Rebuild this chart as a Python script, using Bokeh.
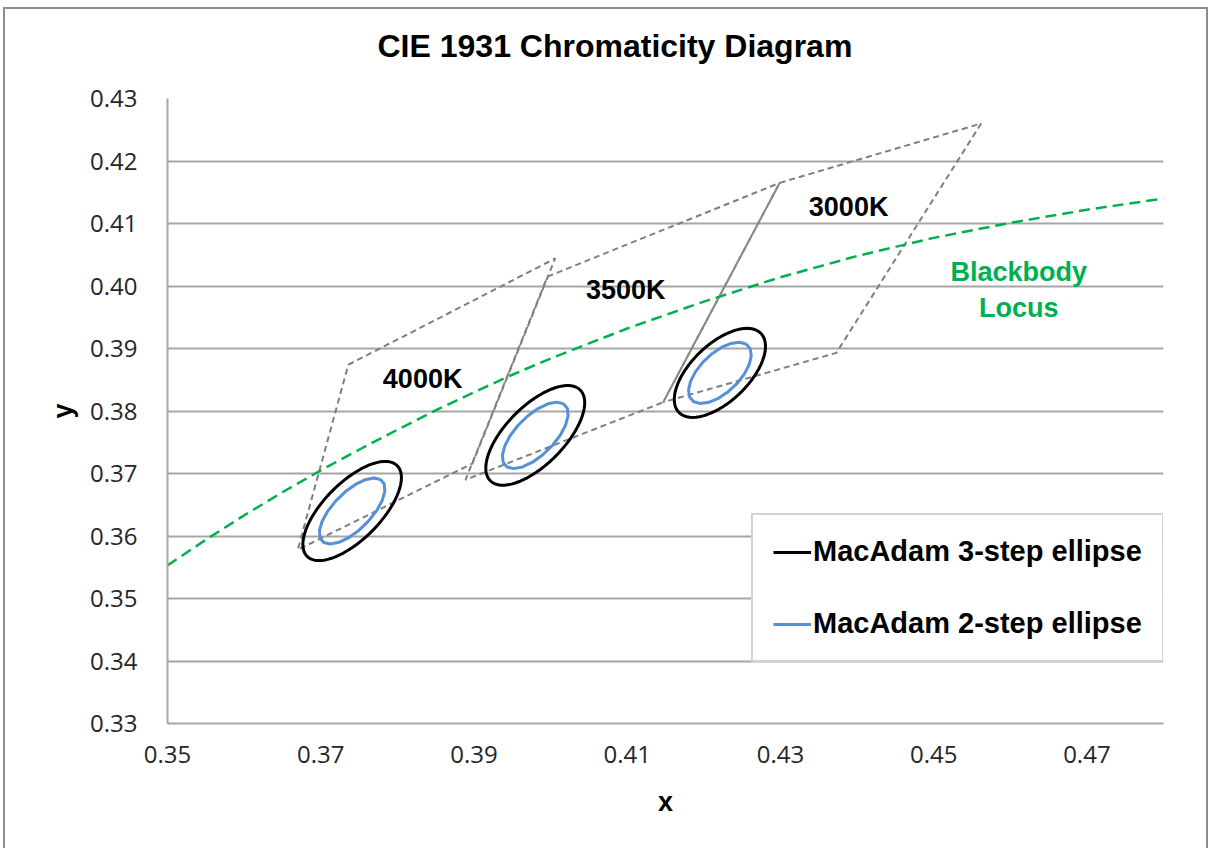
import numpy as np
from bokeh.plotting import figure
from bokeh.models import (FixedTicker, NumeralTickFormatter, Legend, LegendItem,
                          Range1d, Title)
from bokeh.core.properties import value
from bokeh.embed import file_html
from bokeh.resources import INLINE

# ---------------- data ----------------
title_text = "CIE 1931 Chromaticity Diagram"
x_ticks = [0.35, 0.37, 0.39, 0.41, 0.43, 0.45, 0.47]
y_ticks = [0.33, 0.34, 0.35, 0.36, 0.37, 0.38, 0.39, 0.40, 0.41, 0.42, 0.43]

# Blackbody (Planckian) locus
bb_x = [0.350, 0.355, 0.360, 0.365, 0.370, 0.375, 0.380, 0.385, 0.390, 0.395,
        0.400, 0.410, 0.420, 0.430, 0.440, 0.450, 0.460, 0.470, 0.480]
bb_y = [0.3553, 0.3594, 0.3633, 0.3670, 0.3705, 0.3738, 0.3770, 0.3801, 0.3830, 0.3858,
        0.3884, 0.3932, 0.3975, 0.4014, 0.4048, 0.4077, 0.4101, 0.4122, 0.4140]

# ANSI chromaticity quadrangles (corner points, closed)
q4000_x = [0.3736, 0.4006, 0.3898, 0.3670, 0.3736]
q4000_y = [0.3874, 0.4044, 0.3716, 0.3578, 0.3874]
q3500_x = [0.3996, 0.4299, 0.4147, 0.3889, 0.3996]
q3500_y = [0.4015, 0.4165, 0.3814, 0.3690, 0.4015]
q3000_x = [0.4299, 0.4562, 0.4373, 0.4147, 0.4299]
q3000_y = [0.4165, 0.4260, 0.3893, 0.3814, 0.4165]

# MacAdam ellipses: centres, semi-axes (3-step and 2-step), rotation (deg)
ell_cx = [0.3741, 0.3980, 0.4221]
ell_cy = [0.3640, 0.3761, 0.3861]
ell_a3 = [0.00939, 0.00939, 0.00834]
ell_b3 = [0.00402, 0.00414, 0.00408]
ell_a2 = [0.00626, 0.00626, 0.00575]
ell_b2 = [0.00268, 0.00276, 0.00280]
ell_theta = [53.72, 54.00, 53.43]

# text annotations
cct_labels = ["4000K", "3500K", "3000K"]
cct_label_x = [0.3833, 0.4098, 0.4389]
cct_label_y = [0.3852, 0.3993, 0.4127]
bb_label = ["Blackbody\nLocus"]
bb_label_x = [0.4611]
bb_label_y = [0.3993]

legend_labels = ["MacAdam 3-step ellipse", "MacAdam 2-step ellipse"]


def ellipse_path(cx, cy, a, b, theta_deg, n):
    t = np.linspace(0, 2 * np.pi, n + 1)
    th = np.radians(theta_deg)
    xs = cx + a * np.cos(t) * np.cos(th) - b * np.sin(t) * np.sin(th)
    ys = cy + a * np.cos(t) * np.sin(th) + b * np.sin(t) * np.cos(th)
    return list(xs), list(ys)


black_xs, black_ys, blue_xs, blue_ys = [], [], [], []
for i in range(len(ell_cx)):
    bx, by = ellipse_path(ell_cx[i], ell_cy[i], ell_a3[i], ell_b3[i], ell_theta[i], 72)
    black_xs.append(bx); black_ys.append(by)
    ux, uy = ellipse_path(ell_cx[i], ell_cy[i], ell_a2[i], ell_b2[i], ell_theta[i], 20)
    blue_xs.append(ux); blue_ys.append(uy)

# ---------------- figure ----------------
GRID = "#A6A6A6"
TICK_FONT = "Open Sans"
BOLD_FONT = "Liberation Sans"

p = figure(width=1205, height=841, title=None,
           x_range=Range1d(0.35, 0.48), y_range=Range1d(0.33, 0.43),
           output_backend="svg", toolbar_location=None,
           min_border_left=162, min_border_right=47,
           min_border_top=89, min_border_bottom=127)
p.styles = {"margin-left": "3px", "margin-top": "7px",
            "border-left": "2px solid #8C8C8C", "border-top": "2px solid #8C8C8C",
            "border-right": "2px solid #8C8C8C"}

p.outline_line_color = None
p.background_fill_color = "white"
p.border_fill_color = "white"

# spacer (closest to plot area) and the chart title above it
p.add_layout(Title(text=" ", text_font_size="1px", standoff=27), "above")
p.add_layout(Title(text=title_text, text_font=BOLD_FONT, text_font_style="bold",
                   text_font_size="32px", text_color="black",
                   align="left", offset=210, standoff=10), "above")

for ax in (p.xaxis[0], p.yaxis[0]):
    ax.formatter = NumeralTickFormatter(format="0.00")
    ax.axis_line_color = GRID
    ax.axis_line_width = 2
    ax.major_tick_line_color = None
    ax.minor_tick_line_color = None
    ax.major_tick_out = 0
    ax.major_tick_in = 0
    ax.major_label_text_font = TICK_FONT
    ax.major_label_text_font_size = "24px"
    ax.major_label_text_color = "#262626"
    ax.axis_label_text_font = BOLD_FONT
    ax.axis_label_text_font_style = "bold"
    ax.axis_label_text_font_size = "27px"
    ax.axis_label_text_color = "black"

p.xaxis.ticker = FixedTicker(ticks=x_ticks)
p.yaxis.ticker = FixedTicker(ticks=y_ticks)
p.xaxis.axis_label = "x"
p.yaxis.axis_label = "y"
p.xaxis.major_label_standoff = 22
p.yaxis.major_label_standoff = 30
p.xaxis.axis_label_standoff = 21
p.yaxis.axis_label_standoff = 9

p.xgrid.visible = False
p.ygrid.ticker = FixedTicker(ticks=y_ticks)
p.ygrid.grid_line_color = GRID
p.ygrid.grid_line_width = 2

# quadrangles
for qx, qy in ((q4000_x, q4000_y), (q3500_x, q3500_y), (q3000_x, q3000_y)):
    p.line(qx, qy, line_color="#7F7F7F", line_width=2, line_dash="6 4")
p.line(q3500_x[1:3], q3500_y[1:3], line_color="#8C8C8C", line_width=1.5)

# blackbody locus
p.line(bb_x, bb_y, line_color="#00B050", line_width=2.5, line_dash="11 6")

# ellipses
r_black = p.multi_line(black_xs, black_ys, line_color="black", line_width=3)
r_blue = p.multi_line(blue_xs, blue_ys, line_color="#5590D8", line_width=3)

# labels
p.text(x=cct_label_x, y=cct_label_y, text=cct_labels,
       text_font=value(BOLD_FONT), text_font_style="bold", text_font_size="27px",
       text_align="center", text_baseline="middle", text_color="black")
p.text(x=bb_label_x, y=bb_label_y, text=bb_label,
       text_font=value(BOLD_FONT), text_font_style="bold", text_font_size="27px",
       text_align="center", text_baseline="middle", text_color="#00B050",
       text_line_height=1.2)

legend = Legend(items=[LegendItem(label=legend_labels[0], renderers=[r_black]),
                       LegendItem(label=legend_labels[1], renderers=[r_blue])],
                location=(584, 61))
legend.label_text_font = BOLD_FONT
legend.label_text_font_style = "bold"
legend.label_text_font_size = "29px"
legend.label_text_color = "black"
legend.label_height = 32
legend.glyph_height = 32
legend.glyph_width = 38
legend.label_standoff = 2
legend.spacing = 39
legend.padding = 20
legend.margin = 0
legend.border_line_color = GRID
legend.border_line_width = 2
legend.background_fill_color = "white"
legend.background_fill_alpha = 1.0
p.add_layout(legend)

open("out.html", "w").write(file_html(p, INLINE))
